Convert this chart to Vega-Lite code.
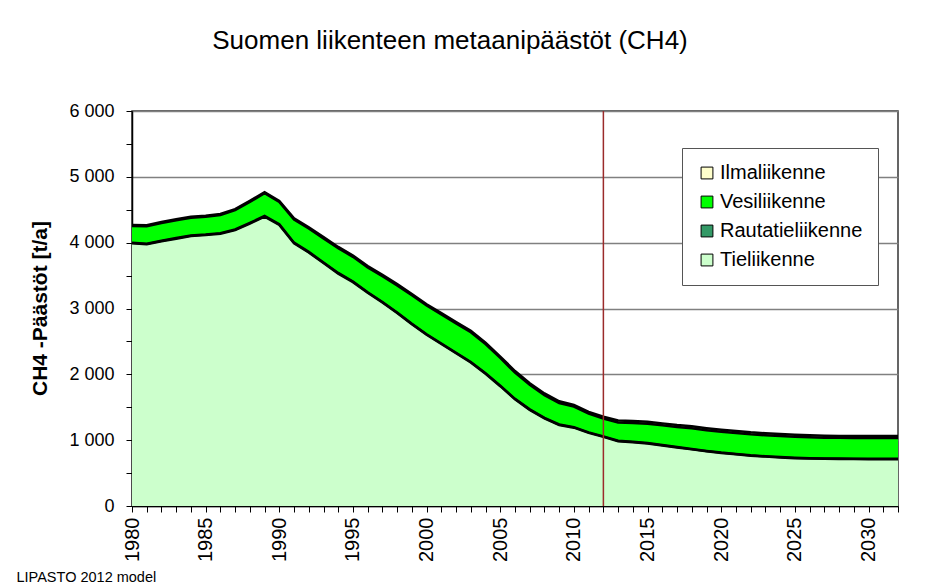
{
  "$schema": "https://vega.github.io/schema/vega-lite/v6.json",
  "width": 766,
  "height": 395,
  "autosize": {"type": "none"},
  "padding": {"left": 132, "top": 111, "right": 40, "bottom": 79},
  "background": "white",
  "config": {
    "font": "Liberation Sans",
    "view": {"stroke": "#333333", "strokeWidth": 1.5},
    "axis": {"labelColor": "black", "titleColor": "black", "domainColor": "black", "tickColor": "black", "labelFont": "Liberation Sans", "titleFont": "Liberation Sans"}
  },
  "title": {
    "text": "Suomen liikenteen metaanipäästöt (CH4)",
    "fontSize": 26,
    "fontWeight": "normal",
    "font": "Liberation Sans",
    "color": "black",
    "anchor": "middle",
    "frame": "group",
    "dx": -65,
    "offset": 27,
    "baseline": "alphabetic"
  },
  "datasets": {
    "emissions": [
      {"year":1980,"mode":"Tieliikenne","value":3990},{"year":1980,"mode":"Rautatieliikenne","value":10},{"year":1980,"mode":"Vesiliikenne","value":255},{"year":1980,"mode":"Ilmaliikenne","value":15},
      {"year":1981,"mode":"Tieliikenne","value":3975},{"year":1981,"mode":"Rautatieliikenne","value":10},{"year":1981,"mode":"Vesiliikenne","value":265},{"year":1981,"mode":"Ilmaliikenne","value":15},
      {"year":1982,"mode":"Tieliikenne","value":4020},{"year":1982,"mode":"Rautatieliikenne","value":10},{"year":1982,"mode":"Vesiliikenne","value":270},{"year":1982,"mode":"Ilmaliikenne","value":15},
      {"year":1983,"mode":"Tieliikenne","value":4060},{"year":1983,"mode":"Rautatieliikenne","value":10},{"year":1983,"mode":"Vesiliikenne","value":270},{"year":1983,"mode":"Ilmaliikenne","value":15},
      {"year":1984,"mode":"Tieliikenne","value":4100},{"year":1984,"mode":"Rautatieliikenne","value":10},{"year":1984,"mode":"Vesiliikenne","value":270},{"year":1984,"mode":"Ilmaliikenne","value":15},
      {"year":1985,"mode":"Tieliikenne","value":4115},{"year":1985,"mode":"Rautatieliikenne","value":10},{"year":1985,"mode":"Vesiliikenne","value":270},{"year":1985,"mode":"Ilmaliikenne","value":15},
      {"year":1986,"mode":"Tieliikenne","value":4135},{"year":1986,"mode":"Rautatieliikenne","value":10},{"year":1986,"mode":"Vesiliikenne","value":275},{"year":1986,"mode":"Ilmaliikenne","value":15},
      {"year":1987,"mode":"Tieliikenne","value":4190},{"year":1987,"mode":"Rautatieliikenne","value":10},{"year":1987,"mode":"Vesiliikenne","value":295},{"year":1987,"mode":"Ilmaliikenne","value":15},
      {"year":1988,"mode":"Tieliikenne","value":4290},{"year":1988,"mode":"Rautatieliikenne","value":10},{"year":1988,"mode":"Vesiliikenne","value":320},{"year":1988,"mode":"Ilmaliikenne","value":15},
      {"year":1989,"mode":"Tieliikenne","value":4395},{"year":1989,"mode":"Rautatieliikenne","value":10},{"year":1989,"mode":"Vesiliikenne","value":345},{"year":1989,"mode":"Ilmaliikenne","value":15},
      {"year":1990,"mode":"Tieliikenne","value":4270},{"year":1990,"mode":"Rautatieliikenne","value":10},{"year":1990,"mode":"Vesiliikenne","value":340},{"year":1990,"mode":"Ilmaliikenne","value":15},
      {"year":1991,"mode":"Tieliikenne","value":3990},{"year":1991,"mode":"Rautatieliikenne","value":10},{"year":1991,"mode":"Vesiliikenne","value":350},{"year":1991,"mode":"Ilmaliikenne","value":20},
      {"year":1992,"mode":"Tieliikenne","value":3850},{"year":1992,"mode":"Rautatieliikenne","value":10},{"year":1992,"mode":"Vesiliikenne","value":355},{"year":1992,"mode":"Ilmaliikenne","value":20},
      {"year":1993,"mode":"Tieliikenne","value":3690},{"year":1993,"mode":"Rautatieliikenne","value":10},{"year":1993,"mode":"Vesiliikenne","value":365},{"year":1993,"mode":"Ilmaliikenne","value":20},
      {"year":1994,"mode":"Tieliikenne","value":3530},{"year":1994,"mode":"Rautatieliikenne","value":10},{"year":1994,"mode":"Vesiliikenne","value":375},{"year":1994,"mode":"Ilmaliikenne","value":20},
      {"year":1995,"mode":"Tieliikenne","value":3400},{"year":1995,"mode":"Rautatieliikenne","value":10},{"year":1995,"mode":"Vesiliikenne","value":375},{"year":1995,"mode":"Ilmaliikenne","value":20},
      {"year":1996,"mode":"Tieliikenne","value":3240},{"year":1996,"mode":"Rautatieliikenne","value":8},{"year":1996,"mode":"Vesiliikenne","value":377},{"year":1996,"mode":"Ilmaliikenne","value":20},
      {"year":1997,"mode":"Tieliikenne","value":3090},{"year":1997,"mode":"Rautatieliikenne","value":8},{"year":1997,"mode":"Vesiliikenne","value":392},{"year":1997,"mode":"Ilmaliikenne","value":20},
      {"year":1998,"mode":"Tieliikenne","value":2930},{"year":1998,"mode":"Rautatieliikenne","value":8},{"year":1998,"mode":"Vesiliikenne","value":412},{"year":1998,"mode":"Ilmaliikenne","value":20},
      {"year":1999,"mode":"Tieliikenne","value":2760},{"year":1999,"mode":"Rautatieliikenne","value":8},{"year":1999,"mode":"Vesiliikenne","value":432},{"year":1999,"mode":"Ilmaliikenne","value":20},
      {"year":2000,"mode":"Tieliikenne","value":2600},{"year":2000,"mode":"Rautatieliikenne","value":8},{"year":2000,"mode":"Vesiliikenne","value":437},{"year":2000,"mode":"Ilmaliikenne","value":20},
      {"year":2001,"mode":"Tieliikenne","value":2460},{"year":2001,"mode":"Rautatieliikenne","value":8},{"year":2001,"mode":"Vesiliikenne","value":442},{"year":2001,"mode":"Ilmaliikenne","value":20},
      {"year":2002,"mode":"Tieliikenne","value":2320},{"year":2002,"mode":"Rautatieliikenne","value":8},{"year":2002,"mode":"Vesiliikenne","value":447},{"year":2002,"mode":"Ilmaliikenne","value":20},
      {"year":2003,"mode":"Tieliikenne","value":2180},{"year":2003,"mode":"Rautatieliikenne","value":8},{"year":2003,"mode":"Vesiliikenne","value":452},{"year":2003,"mode":"Ilmaliikenne","value":20},
      {"year":2004,"mode":"Tieliikenne","value":2010},{"year":2004,"mode":"Rautatieliikenne","value":8},{"year":2004,"mode":"Vesiliikenne","value":442},{"year":2004,"mode":"Ilmaliikenne","value":20},
      {"year":2005,"mode":"Tieliikenne","value":1820},{"year":2005,"mode":"Rautatieliikenne","value":8},{"year":2005,"mode":"Vesiliikenne","value":422},{"year":2005,"mode":"Ilmaliikenne","value":20},
      {"year":2006,"mode":"Tieliikenne","value":1620},{"year":2006,"mode":"Rautatieliikenne","value":8},{"year":2006,"mode":"Vesiliikenne","value":397},{"year":2006,"mode":"Ilmaliikenne","value":25},
      {"year":2007,"mode":"Tieliikenne","value":1460},{"year":2007,"mode":"Rautatieliikenne","value":8},{"year":2007,"mode":"Vesiliikenne","value":372},{"year":2007,"mode":"Ilmaliikenne","value":25},
      {"year":2008,"mode":"Tieliikenne","value":1330},{"year":2008,"mode":"Rautatieliikenne","value":8},{"year":2008,"mode":"Vesiliikenne","value":347},{"year":2008,"mode":"Ilmaliikenne","value":25},
      {"year":2009,"mode":"Tieliikenne","value":1230},{"year":2009,"mode":"Rautatieliikenne","value":8},{"year":2009,"mode":"Vesiliikenne","value":327},{"year":2009,"mode":"Ilmaliikenne","value":25},
      {"year":2010,"mode":"Tieliikenne","value":1190},{"year":2010,"mode":"Rautatieliikenne","value":8},{"year":2010,"mode":"Vesiliikenne","value":312},{"year":2010,"mode":"Ilmaliikenne","value":25},
      {"year":2011,"mode":"Tieliikenne","value":1110},{"year":2011,"mode":"Rautatieliikenne","value":8},{"year":2011,"mode":"Vesiliikenne","value":287},{"year":2011,"mode":"Ilmaliikenne","value":25},
      {"year":2012,"mode":"Tieliikenne","value":1050},{"year":2012,"mode":"Rautatieliikenne","value":8},{"year":2012,"mode":"Vesiliikenne","value":272},{"year":2012,"mode":"Ilmaliikenne","value":25},
      {"year":2013,"mode":"Tieliikenne","value":985},{"year":2013,"mode":"Rautatieliikenne","value":6},{"year":2013,"mode":"Vesiliikenne","value":279},{"year":2013,"mode":"Ilmaliikenne","value":30},
      {"year":2014,"mode":"Tieliikenne","value":970},{"year":2014,"mode":"Rautatieliikenne","value":6},{"year":2014,"mode":"Vesiliikenne","value":284},{"year":2014,"mode":"Ilmaliikenne","value":30},
      {"year":2015,"mode":"Tieliikenne","value":950},{"year":2015,"mode":"Rautatieliikenne","value":6},{"year":2015,"mode":"Vesiliikenne","value":294},{"year":2015,"mode":"Ilmaliikenne","value":30},
      {"year":2016,"mode":"Tieliikenne","value":920},{"year":2016,"mode":"Rautatieliikenne","value":6},{"year":2016,"mode":"Vesiliikenne","value":299},{"year":2016,"mode":"Ilmaliikenne","value":30},
      {"year":2017,"mode":"Tieliikenne","value":890},{"year":2017,"mode":"Rautatieliikenne","value":6},{"year":2017,"mode":"Vesiliikenne","value":304},{"year":2017,"mode":"Ilmaliikenne","value":30},
      {"year":2018,"mode":"Tieliikenne","value":860},{"year":2018,"mode":"Rautatieliikenne","value":6},{"year":2018,"mode":"Vesiliikenne","value":314},{"year":2018,"mode":"Ilmaliikenne","value":30},
      {"year":2019,"mode":"Tieliikenne","value":830},{"year":2019,"mode":"Rautatieliikenne","value":6},{"year":2019,"mode":"Vesiliikenne","value":316},{"year":2019,"mode":"Ilmaliikenne","value":30},
      {"year":2020,"mode":"Tieliikenne","value":805},{"year":2020,"mode":"Rautatieliikenne","value":6},{"year":2020,"mode":"Vesiliikenne","value":318},{"year":2020,"mode":"Ilmaliikenne","value":30},
      {"year":2021,"mode":"Tieliikenne","value":785},{"year":2021,"mode":"Rautatieliikenne","value":6},{"year":2021,"mode":"Vesiliikenne","value":319},{"year":2021,"mode":"Ilmaliikenne","value":30},
      {"year":2022,"mode":"Tieliikenne","value":765},{"year":2022,"mode":"Rautatieliikenne","value":6},{"year":2022,"mode":"Vesiliikenne","value":319},{"year":2022,"mode":"Ilmaliikenne","value":30},
      {"year":2023,"mode":"Tieliikenne","value":750},{"year":2023,"mode":"Rautatieliikenne","value":6},{"year":2023,"mode":"Vesiliikenne","value":319},{"year":2023,"mode":"Ilmaliikenne","value":30},
      {"year":2024,"mode":"Tieliikenne","value":737},{"year":2024,"mode":"Rautatieliikenne","value":6},{"year":2024,"mode":"Vesiliikenne","value":319},{"year":2024,"mode":"Ilmaliikenne","value":30},
      {"year":2025,"mode":"Tieliikenne","value":727},{"year":2025,"mode":"Rautatieliikenne","value":6},{"year":2025,"mode":"Vesiliikenne","value":319},{"year":2025,"mode":"Ilmaliikenne","value":30},
      {"year":2026,"mode":"Tieliikenne","value":720},{"year":2026,"mode":"Rautatieliikenne","value":6},{"year":2026,"mode":"Vesiliikenne","value":317},{"year":2026,"mode":"Ilmaliikenne","value":30},
      {"year":2027,"mode":"Tieliikenne","value":716},{"year":2027,"mode":"Rautatieliikenne","value":6},{"year":2027,"mode":"Vesiliikenne","value":316},{"year":2027,"mode":"Ilmaliikenne","value":30},
      {"year":2028,"mode":"Tieliikenne","value":714},{"year":2028,"mode":"Rautatieliikenne","value":6},{"year":2028,"mode":"Vesiliikenne","value":315},{"year":2028,"mode":"Ilmaliikenne","value":30},
      {"year":2029,"mode":"Tieliikenne","value":713},{"year":2029,"mode":"Rautatieliikenne","value":6},{"year":2029,"mode":"Vesiliikenne","value":314},{"year":2029,"mode":"Ilmaliikenne","value":30},
      {"year":2030,"mode":"Tieliikenne","value":712},{"year":2030,"mode":"Rautatieliikenne","value":6},{"year":2030,"mode":"Vesiliikenne","value":314},{"year":2030,"mode":"Ilmaliikenne","value":30},
      {"year":2031,"mode":"Tieliikenne","value":712},{"year":2031,"mode":"Rautatieliikenne","value":6},{"year":2031,"mode":"Vesiliikenne","value":314},{"year":2031,"mode":"Ilmaliikenne","value":30},
      {"year":2032,"mode":"Tieliikenne","value":712},{"year":2032,"mode":"Rautatieliikenne","value":6},{"year":2032,"mode":"Vesiliikenne","value":314},{"year":2032,"mode":"Ilmaliikenne","value":30}
    ],
    "marker": [{"year": 2012}]
  },
  "encoding": {
    "x": {
      "field": "year", "type": "quantitative",
      "scale": {"domain": [1980, 2032], "nice": false, "zero": false},
      "axis": {
        "values": [1980,1981,1982,1983,1984,1985,1986,1987,1988,1989,1990,1991,1992,1993,1994,1995,1996,1997,1998,1999,2000,2001,2002,2003,2004,2005,2006,2007,2008,2009,2010,2011,2012,2013,2014,2015,2016,2017,2018,2019,2020,2021,2022,2023,2024,2025,2026,2027,2028,2029,2030,2031,2032],
        "labelExpr": "datum.value % 5 == 0 ? format(datum.value, 'd') : ''",
        "labelAngle": 270,
        "labelAlign": "right",
        "labelBaseline": "middle",
        "labelFontSize": 20,
        "labelPadding": 5,
        "labelOverlap": false,
        "labelFlush": false,
        "tickSize": 6,
        "tickWidth": 1,
        "domainWidth": 1.5,
        "grid": false,
        "title": "LIPASTO 2012 model",
        "titleFontSize": 14.5,
        "titleFontWeight": "normal",
        "titleAnchor": "start",
        "titleAlign": "left",
        "titleBaseline": "alphabetic",
        "titleX": -116,
        "titleY": 75
      }
    }
  },
  "layer": [
    {
      "data": {"name": "emissions"},
      "transform": [
        {"calculate": "indexof(['Tieliikenne','Rautatieliikenne','Vesiliikenne','Ilmaliikenne'], datum.mode)", "as": "ord"},
        {"stack": "value", "groupby": ["year"], "sort": [{"field": "ord", "order": "ascending"}], "as": ["v0", "v1"]}
      ],
      "mark": {"type": "area", "interpolate": "linear", "opacity": 1},
      "encoding": {
        "y": {
          "field": "v1", "type": "quantitative",
          "scale": {"domain": [0, 6000], "nice": false},
          "axis": {
            "values": [0,500,1000,1500,2000,2500,3000,3500,4000,4500,5000,5500,6000],
            "labelExpr": "datum.value % 1000 == 0 ? replace(format(datum.value, ','), ',', ' ') : ''",
            "labelFontSize": 18,
            "labelPadding": 12,
            "labelOverlap": false,
            "tickSize": 6,
            "tickWidth": 1,
            "domainWidth": 1.5,
            "grid": true,
            "gridColor": "#808080",
            "gridWidth": 1.5,
            "gridOpacity": {"condition": {"test": "datum.value % 1000 == 0", "value": 1}, "value": 0},
            "title": "CH4 -Päästöt [t/a]",
            "titleFontSize": 21,
            "titleFontWeight": "bold",
            "titleAngle": 270,
            "titleX": -92,
            "titleY": 197,
            "titleAlign": "center",
            "titleBaseline": "middle"
          }
        },
        "y2": {"field": "v0"},
        "color": {
          "field": "mode", "type": "nominal",
          "scale": {"domain": ["Ilmaliikenne","Vesiliikenne","Rautatieliikenne","Tieliikenne"], "range": ["#FFFFCC","#00FF00","#339966","#CCFFCC"]},
          "legend": {
            "title": null,
            "orient": "none",
            "legendX": 550,
            "legendY": 37,
            "direction": "vertical",
            "strokeColor": "#555555",
            "fillColor": "white",
            "padding": 15,
            "rowPadding": 9,
            "symbolType": "square",
            "symbolSize": 140,
            "symbolStrokeColor": "black",
            "symbolStrokeWidth": 1,
            "symbolOpacity": 1,
            "labelFontSize": 20,
            "labelColor": "black",
            "labelOffset": 3,
            "labelLimit": 300
          }
        }
      }
    },
    {
      "data": {"name": "emissions"},
      "transform": [
        {"calculate": "indexof(['Tieliikenne','Rautatieliikenne','Vesiliikenne','Ilmaliikenne'], datum.mode)", "as": "ord"},
        {"stack": "value", "groupby": ["year"], "sort": [{"field": "ord", "order": "ascending"}], "as": ["v0", "v1"]}
      ],
      "mark": {"type": "line", "color": "black", "strokeWidth": 2.5, "interpolate": "linear"},
      "encoding": {
        "y": {
          "field": "v1", "type": "quantitative",
          "scale": {"domain": [0, 6000], "nice": false},
          "axis": {
            "values": [0,500,1000,1500,2000,2500,3000,3500,4000,4500,5000,5500,6000],
            "labelExpr": "datum.value % 1000 == 0 ? replace(format(datum.value, ','), ',', ' ') : ''",
            "labelFontSize": 18,
            "labelPadding": 12,
            "labelOverlap": false,
            "tickSize": 6,
            "tickWidth": 1,
            "domainWidth": 1.5,
            "grid": true,
            "gridColor": "#808080",
            "gridWidth": 1.5,
            "gridOpacity": {"condition": {"test": "datum.value % 1000 == 0", "value": 1}, "value": 0},
            "title": "CH4 -Päästöt [t/a]",
            "titleFontSize": 21,
            "titleFontWeight": "bold",
            "titleAngle": 270,
            "titleX": -92,
            "titleY": 197,
            "titleAlign": "center",
            "titleBaseline": "middle"
          }
        },
        "detail": {"field": "mode", "type": "nominal"}
      }
    },
    {
      "data": {"name": "marker"},
      "mark": {"type": "rule", "color": "#9B2B2B", "strokeWidth": 1.5},
      "encoding": {}
    }
  ]
}
